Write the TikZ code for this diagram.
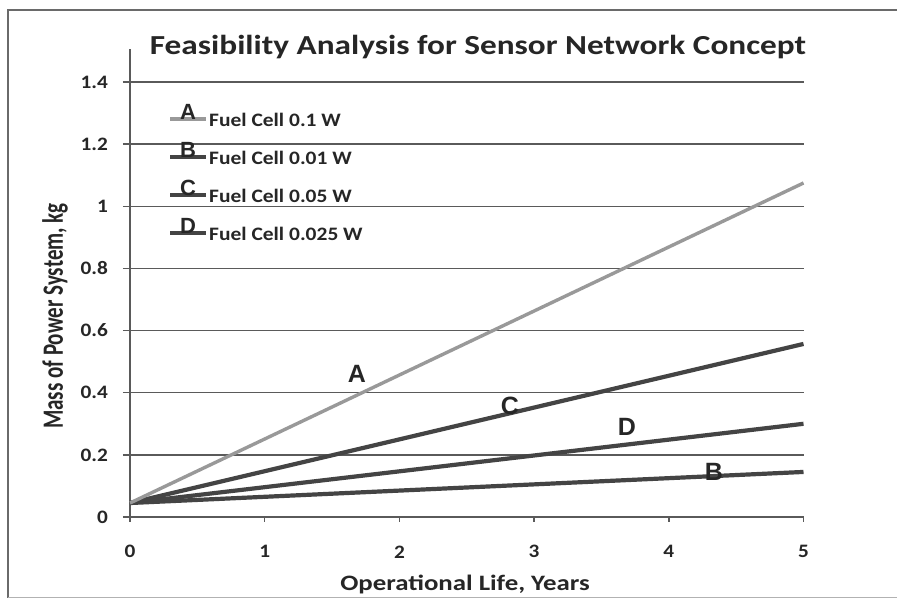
\documentclass[tikz,border=0pt]{standalone}
\usepackage{fontspec}
\setmainfont{Carlito}
\newfontfamily\letterfont{Liberation Sans}
\definecolor{gridc}{HTML}{5A5A5A}
\definecolor{lineA}{HTML}{999999}
\definecolor{lineD}{HTML}{444444}
\definecolor{framec}{HTML}{6A6A6A}
\begin{document}
\begin{tikzpicture}[
  x=1pt,y=1pt,
  grid/.style={draw=gridc,line width=1.4pt},
  serA/.style={draw=lineA,line width=3.4pt},
  serD/.style={draw=lineD,line width=4.2pt},
  ticklab/.style={font=\bfseries\fontsize{19}{19}\selectfont,text=black!85,inner sep=0pt,xscale=1.12},
  legtext/.style={font=\bfseries\fontsize{19}{19}\selectfont,text=black!85,anchor=west,inner sep=0pt,xscale=1.13},
  letterlab/.style={font=\letterfont\bfseries\fontsize{25}{25}\selectfont,text=black!85,inner sep=0pt},
  leglet/.style={font=\letterfont\bfseries\fontsize{22}{22}\selectfont,text=black!85,inner sep=0pt,anchor=base}
]
\useasboundingbox (0,0) rectangle (897,602);
\fill[white] (0,0) rectangle (897,602);
% frame
\coordinate (ftl) at (8,592);
\coordinate (ftr) at (897,592);
\coordinate (fbl) at (8,4);
\coordinate (fbr) at (897,4);
\draw[framec,line width=1.4pt] (ftr) -- (ftl) -- (fbl);
\draw[black!30,line width=1pt] (fbl) -- (fbr);
% title
\node[font=\bfseries\fontsize{27.5}{27.5}\selectfont,text=black!85,xscale=1.21] (title) at (478,555) {Feasibility Analysis for Sensor Network Concept};
\begin{scope}[shift={(130,85)},x=134.7pt,y=310.7pt]
  % gridlines
  \foreach \v/\n in {0.2/g2,0.4/g4,0.6/g6,0.8/g8,1/g10,1.2/g12,1.4/g14}{
    \coordinate (\n l) at (-0.052,\v);
    \coordinate (\n r) at (5,\v);
    \draw[grid] (\n l) -- (\n r);
  }
  % axes
  \coordinate (xl) at (-0.052,0);
  \coordinate (xr) at (5,0);
  \coordinate (yb) at (0,0);
  \coordinate (yt) at (0,1.505);
  \draw[grid] (xl) -- (xr);
  \draw[grid] (yb) -- (yt);
  \foreach \t in {0,1,2,3,4,5}{
    \coordinate (tk\t) at (\t,0);
    \coordinate (tkb\t) at (\t,-0.017);
    \draw[grid] (tk\t) -- (tkb\t);
    \node[ticklab] (xt\t) at (\t,-0.112) {\t};
  }
  \foreach \v/\lab/\n in {0/0/y0,0.2/0.2/y2,0.4/0.4/y4,0.6/0.6/y6,0.8/0.8/y8,1/1/y10,1.2/1.2/y12,1.4/1.4/y14}{
    \node[ticklab,anchor=east] (\n) at (-0.163,\v) {\lab};
  }
  % series
  \coordinate (s0) at (0,0.045);
  \coordinate (eA) at (5,1.075);
  \coordinate (eC) at (5,0.557);
  \coordinate (eD) at (5,0.300);
  \coordinate (eB) at (5,0.145);
  \draw[serD] (s0) -- (eB);
  \draw[serD] (s0) -- (eD);
  \draw[serD] (s0) -- (eC);
  \draw[serA] (s0) -- (eA);
\end{scope}
% letter labels on the lines
\node[letterlab] (labA) at (357,228) {A};
\node[letterlab] (labC) at (510,196) {C};
\node[letterlab] (labD) at (627,175) {D};
\node[letterlab] (labB) at (714,130) {B};
% legend
\foreach \y/\L/\txt/\sty/\n in {483/A/{Fuel Cell 0.1 W}/serA/la,445/B/{Fuel Cell 0.01 W}/serD/lb,407/C/{Fuel Cell 0.05 W}/serD/lc,369/D/{Fuel Cell 0.025 W}/serD/ld}{
  \coordinate (\n l) at (170,\y);
  \coordinate (\n r) at (206,\y);
  \draw[\sty,line width=3.4pt] (\n l) -- (\n r);
  \node[leglet] (\n let) at (188,\y-1) {\L};
  \node[legtext] (\n txt) at (209,\y-1) {\txt};
}
% axis titles
\node[font=\bfseries\fontsize{22}{22}\selectfont,text=black!85,xscale=1.22] (xtitle) at (465,18) {Operational Life, Years};
\node[font=\bfseries\fontsize{21}{21}\selectfont,text=black!85,rotate=90,yscale=1.4] (ytitle) at (55,286) {Mass of Power System, kg};
\end{tikzpicture}
\end{document}
